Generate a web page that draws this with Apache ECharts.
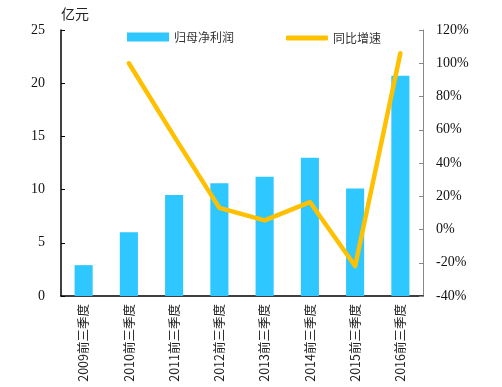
<!DOCTYPE html>
<html>
<head>
<meta charset="utf-8">
<script src="https://cdn.jsdelivr.net/npm/echarts@6/dist/echarts.min.js"></script>
<style>html,body{margin:0;padding:0;background:#fff}#c{width:502px;height:387px}</style>
</head>
<body>
<div id="c"></div>
<script>
var categories = ['2009前三季度','2010前三季度','2011前三季度','2012前三季度','2013前三季度','2014前三季度','2015前三季度','2016前三季度'];
var profit = [2.9, 6.0, 9.5, 10.6, 11.2, 13.0, 10.1, 20.7];
var growth = [null, 100, 56, 13, 5.5, 16.5, -22, 106];
var leftTicks = [0, 25, 5];
var rightTicks = [-40, 120, 20];

var chart = echarts.init(document.getElementById('c'), null, {renderer:'canvas'});
var serif = '"Liberation Serif","DejaVu Serif",serif';
var cjk = '"Noto Sans CJK SC",sans-serif';
chart.setOption({
  animation: false,
  backgroundColor: '#fff',
  grid: {left: 61, right: 79, top: 30, bottom: 91},
  legend: [
    {data: [{name: '归母净利润', icon: 'rect'}], left: 122, top: 26, itemWidth: 42, itemHeight: 9, itemGap: 5,
     textStyle: {fontSize: 12, color: '#333', fontFamily: cjk}},
    {data: [{name: '同比增速', icon: 'roundRect'}], left: 281, top: 27, itemWidth: 42, itemHeight: 5, itemGap: 5,
     itemStyle: {borderRadius: 3},
     textStyle: {fontSize: 12, color: '#333', fontFamily: cjk}}
  ],
  xAxis: {
    type: 'category', data: categories,
    axisLine: {lineStyle: {color: '#000', width: 1.5}},
    axisTick: {show: false},
    axisLabel: {rotate: 90, margin: 8, fontSize: 12.5, color: '#222', fontFamily: cjk, interval: 0}
  },
  yAxis: [
    {type: 'value', min: leftTicks[0], max: leftTicks[1], interval: leftTicks[2],
     name: '亿元', nameLocation: 'end', nameGap: 9,
     nameTextStyle: {align: 'left', fontSize: 14, color: '#222', fontFamily: cjk},
     axisLine: {show: true, lineStyle: {color: '#000', width: 1.5}},
     axisTick: {show: true, inside: true, length: 4, lineStyle: {color: '#000'}},
     splitLine: {show: false},
     axisLabel: {margin: 16, fontSize: 14, color: '#111', fontFamily: serif}},
    {type: 'value', min: rightTicks[0], max: rightTicks[1], interval: rightTicks[2],
     position: 'right',
     axisLine: {show: true, lineStyle: {color: '#888', width: 1}},
     axisTick: {show: true, inside: true, length: 4, lineStyle: {color: '#888'}},
     splitLine: {show: false},
     axisLabel: {margin: 13, fontSize: 14, color: '#111', fontFamily: serif, formatter: '{value}%'}}
  ],
  series: [
    {name: '归母净利润', type: 'bar', data: profit, barWidth: '40%',
     itemStyle: {color: '#2EC7FF'}},
    {name: '同比增速', type: 'line', yAxisIndex: 1, data: growth, symbol: 'none',
     lineStyle: {color: '#FFC000', width: 4.5, cap: 'round', join: 'round'},
     itemStyle: {color: '#FFC000'}}
  ]
});
</script>
</body>
</html>
